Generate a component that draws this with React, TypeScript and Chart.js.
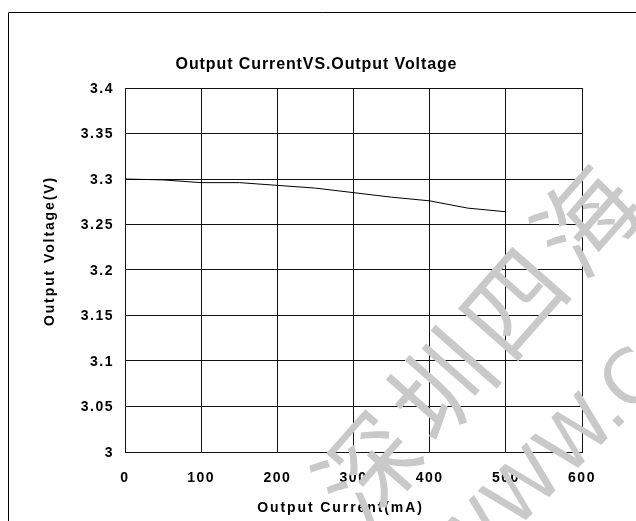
import React, { useEffect, useRef } from "react";
import { Chart, registerables } from "chart.js";

Chart.register(...registerables);

// ---- data ----
const currentMA = [0, 50, 100, 150, 200, 250, 300, 350, 400, 450, 500];
const voltageV = [3.3, 3.299, 3.296, 3.296, 3.293, 3.29, 3.285, 3.28, 3.276, 3.268, 3.264];
const xTickValues = [0, 100, 200, 300, 400, 500, 600];
const yTickValues = [3, 3.05, 3.1, 3.15, 3.2, 3.25, 3.3, 3.35, 3.4];
const chartTitle = "Output CurrentVS.Output Voltage";
const xTitle = "Output Current(mA)";
const yTitle = "Output Voltage(V)";
const watermarkCn = "深圳四海";
const watermarkWeb = "WWW.C";

const FONT = '"Liberation Sans", Arial, Helvetica, sans-serif';

export default function App() {
  const ref = useRef<HTMLCanvasElement>(null);

  useEffect(() => {
    const canvas = ref.current;
    if (!canvas) return;

    const decor = {
      id: "decor",
      beforeDraw(chart: any) {
        (chart.ctx as any).letterSpacing = "1.5px";
      },
      afterDraw(chart: any) {
        const c = chart.ctx as any;
        c.save();
        c.letterSpacing = "0px";
        // outer frame
        c.strokeStyle = "#000";
        c.lineWidth = 1;
        c.beginPath();
        c.moveTo(8.5, 521);
        c.lineTo(8.5, 12.5);
        c.lineTo(636, 12.5);
        c.stroke();

        c.fillStyle = "#000";
        c.textBaseline = "alphabetic";
        c.textAlign = "center";
        // chart title
        c.font = `bold 16px ${FONT}`;
        c.letterSpacing = "0.9px";
        c.fillText(chartTitle, 316.5, 68.5);
        // x title
        c.font = `bold 14px ${FONT}`;
        c.letterSpacing = "1.9px";
        c.fillText(xTitle, 340.5, 511.5);
        // y title
        c.save();
        c.translate(54, 252);
        c.rotate(-Math.PI / 2);
        c.fillText(yTitle, 1, 0);
        c.restore();

        // watermark
        c.fillStyle = "#c9c9c9";
        c.letterSpacing = "10px";
        c.textAlign = "left";
        c.textBaseline = "middle";
        c.save();
        c.translate(335, 505);
        c.rotate((-48.7 * Math.PI) / 180);
        c.font = `100px "Noto Sans CJK SC", sans-serif`;
        c.fillText(watermarkCn, 0, 0);
        c.restore();

        c.save();
        c.letterSpacing = "0px";
        c.textBaseline = "alphabetic";
        c.translate(462, 584);
        c.rotate((-45 * Math.PI) / 180);
        c.font = `75px "DejaVu Sans", sans-serif`;
        c.fillText(watermarkWeb, 0, 0);
        c.restore();

        c.restore();
      },
    };

    const chart = new Chart(canvas, {
      type: "line",
      data: {
        datasets: [
          {
            data: currentMA.map((x, i) => ({ x, y: voltageV[i] })),
            borderColor: "#000",
            borderWidth: 1,
            pointRadius: 0,
            tension: 0,
            fill: false,
          },
        ],
      },
      options: {
        responsive: false,
        animation: false,
        events: [],
        layout: { padding: { top: 88, right: 54, bottom: 0, left: 0 } },
        plugins: {
          legend: { display: false },
          title: { display: false },
          tooltip: { enabled: false },
        },
        scales: {
          x: {
            type: "linear",
            min: 0,
            max: 600,
            afterFit(scale: any) {
              scale.height = 69;
            },
            afterBuildTicks(scale: any) {
              scale.ticks = xTickValues.map((v) => ({ value: v }));
            },
            ticks: {
              autoSkip: false,
              maxRotation: 0,
              padding: 18,
              color: "#000",
              font: { family: FONT, size: 14, weight: "bold" },
              callback: (v: any) => String(v),
            },
            grid: { color: "#111", lineWidth: 1, drawTicks: false },
            border: { display: true, color: "#111", width: 1 },
          },
          y: {
            type: "linear",
            min: 3,
            max: 3.4,
            afterFit(scale: any) {
              scale.width = 125;
            },
            afterBuildTicks(scale: any) {
              scale.ticks = yTickValues.map((v) => ({ value: v }));
            },
            ticks: {
              autoSkip: false,
              padding: 11,
              labelOffset: 1,
              color: "#000",
              font: { family: FONT, size: 14, weight: "bold" },
              callback: (v: any) => String(parseFloat(Number(v).toFixed(2))),
            },
            grid: { color: "#111", lineWidth: 1, drawTicks: false },
            border: { display: true, color: "#111", width: 1 },
          },
        },
      },
      plugins: [decor],
    });

    return () => chart.destroy();
  }, []);

  return (
    <div
      style={{
        position: "fixed",
        left: 0,
        top: 0,
        width: 636,
        height: 521,
        background: "#fff",
        overflow: "hidden",
      }}
    >
      <canvas ref={ref} width={636} height={521} style={{ display: "block" }} />
    </div>
  );
}
